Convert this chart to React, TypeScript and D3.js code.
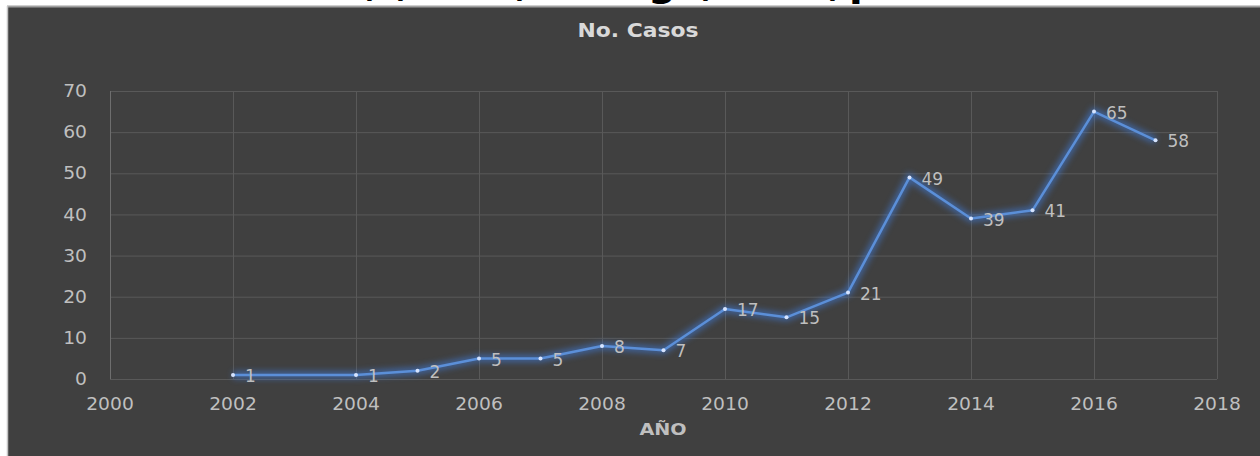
import React from 'react';
import * as d3 from 'd3';

const years = [2002, 2004, 2005, 2006, 2007, 2008, 2009, 2010, 2011, 2012, 2013, 2014, 2015, 2016, 2017];
const casos = [1, 1, 2, 5, 5, 8, 7, 17, 15, 21, 49, 39, 41, 65, 58];
const xTickValues = [2000, 2002, 2004, 2006, 2008, 2010, 2012, 2014, 2016, 2018];
const yTickValues = [0, 10, 20, 30, 40, 50, 60, 70];

// pieces of the cut-off heading above the chart (only descenders show)
const headingBits = [
  {ch: ',', x: 365}, {ch: ',', x: 396}, {ch: ',', x: 515},
  {ch: 'g', x: 648}, {ch: ',', x: 701}, {ch: ',', x: 828}, {ch: 'p', x: 849},
];

const width = 1260;
const height = 456;
const plotLeft = 110;
const plotRight = 1217;
const plotTop = 91;
const plotBottom = 379;

const bg = '#404040';
const gridColor = '#595959';
const textColor = '#bfbfbf';
const lineColor = '#5b8fd8';
const font = '"DejaVu Sans", sans-serif';

type Point = {year: number, value: number};

// text drawn a little wider, the original chart was stretched sideways
const Wide = ({x, y, sx, anchor, size, bold, fill, dy, children}:
  {x: number, y: number, sx: number, anchor: string, size: number, bold?: boolean, fill: string, dy?: string, children: React.ReactNode}) => (
  <text transform={`translate(${x}, ${y}) scale(${sx}, 1)`} dy={dy} textAnchor={anchor}
    fontFamily={font} fontWeight={bold ? 'bold' : 'normal'} fontSize={size} fill={fill}>{children}</text>
);

const App: React.FC = () => {
  const data: Point[] = years.map((y, i) => ({year: y, value: casos[i]}));

  const xScale = d3.scaleLinear().domain([2000, 2018]).range([plotLeft, plotRight]);
  const yScale = d3.scaleLinear().domain([0, 70]).range([plotBottom, plotTop]);

  const lineString = d3.line<Point>()
    .x(d => xScale(d.year))
    .y(d => yScale(d.value))(data) || '';

  return (
    <svg width={width} height={height}
      style={{position: 'absolute', left: 0, top: 0, background: 'white', display: 'block'}}>
      <defs>
        <filter id="glow" x="-10%" y="-10%" width="120%" height="120%">
          <feGaussianBlur stdDeviation="3"/>
        </filter>
      </defs>
      {headingBits.map((b, i) => (
        <text key={i} x={b.x} y={-5} fontFamily={font} fontWeight="bold" fontSize={40} fill="black">{b.ch}</text>
      ))}
      {/* chart panel */}
      <rect x={8} y={7} width={width} height={height} fill={bg}/>
      <line x1={7} x2={width} y1={6.5} y2={6.5} stroke="#a0a0a0" strokeWidth={2}/>
      <line x1={7.5} x2={7.5} y1={6} y2={height} stroke="#c4c4c4" strokeWidth={1.5}/>

      <Wide x={638} y={37} sx={1.15} anchor="middle" size={19} bold fill="#d9d9d9">No. Casos</Wide>

      {/* grid */}
      {yTickValues.map(v => (
        <line key={'h' + v} x1={plotLeft} x2={plotRight} y1={yScale(v) + 0.5} y2={yScale(v) + 0.5} stroke={gridColor} strokeWidth={1}/>
      ))}
      {xTickValues.filter(v => v !== 2000).map(v => (
        <line key={'v' + v} x1={xScale(v) + 0.5} x2={xScale(v) + 0.5} y1={plotTop} y2={plotBottom} stroke={gridColor} strokeWidth={1}/>
      ))}
      <line x1={plotLeft + 0.5} x2={plotLeft + 0.5} y1={plotTop} y2={plotBottom} stroke="#6e6e6e" strokeWidth={1}/>

      {/* tick labels */}
      {yTickValues.map(v => (
        <Wide key={'yl' + v} x={87} y={yScale(v)} dy="0.36em" sx={1.1} anchor="end" size={17} fill={textColor}>{v}</Wide>
      ))}
      {xTickValues.map(v => (
        <Wide key={'xl' + v} x={xScale(v)} y={410} sx={1.1} anchor="middle" size={17} fill={textColor}>{v}</Wide>
      ))}
      <Wide x={663} y={435} sx={1.2} anchor="middle" size={16} bold fill={textColor}>AÑO</Wide>

      {/* series */}
      <path d={lineString} fill="none" stroke="#3f7ee0" strokeWidth={7} opacity={0.6} filter="url(#glow)"/>
      <path d={lineString} fill="none" stroke={lineColor} strokeWidth={2.5} strokeLinejoin="round"/>
      {data.map(d => (
        <circle key={'p' + d.year} cx={xScale(d.year)} cy={yScale(d.value)} r={2} fill="#d6e4ff"/>
      ))}
      {data.map(d => (
        <text key={'dl' + d.year} x={xScale(d.year) + 12} y={yScale(d.value) + 1} dy="0.36em"
          fontFamily={font} fontSize={17} fill={textColor}>{d.value}</text>
      ))}
    </svg>
  );
};

export default App;
